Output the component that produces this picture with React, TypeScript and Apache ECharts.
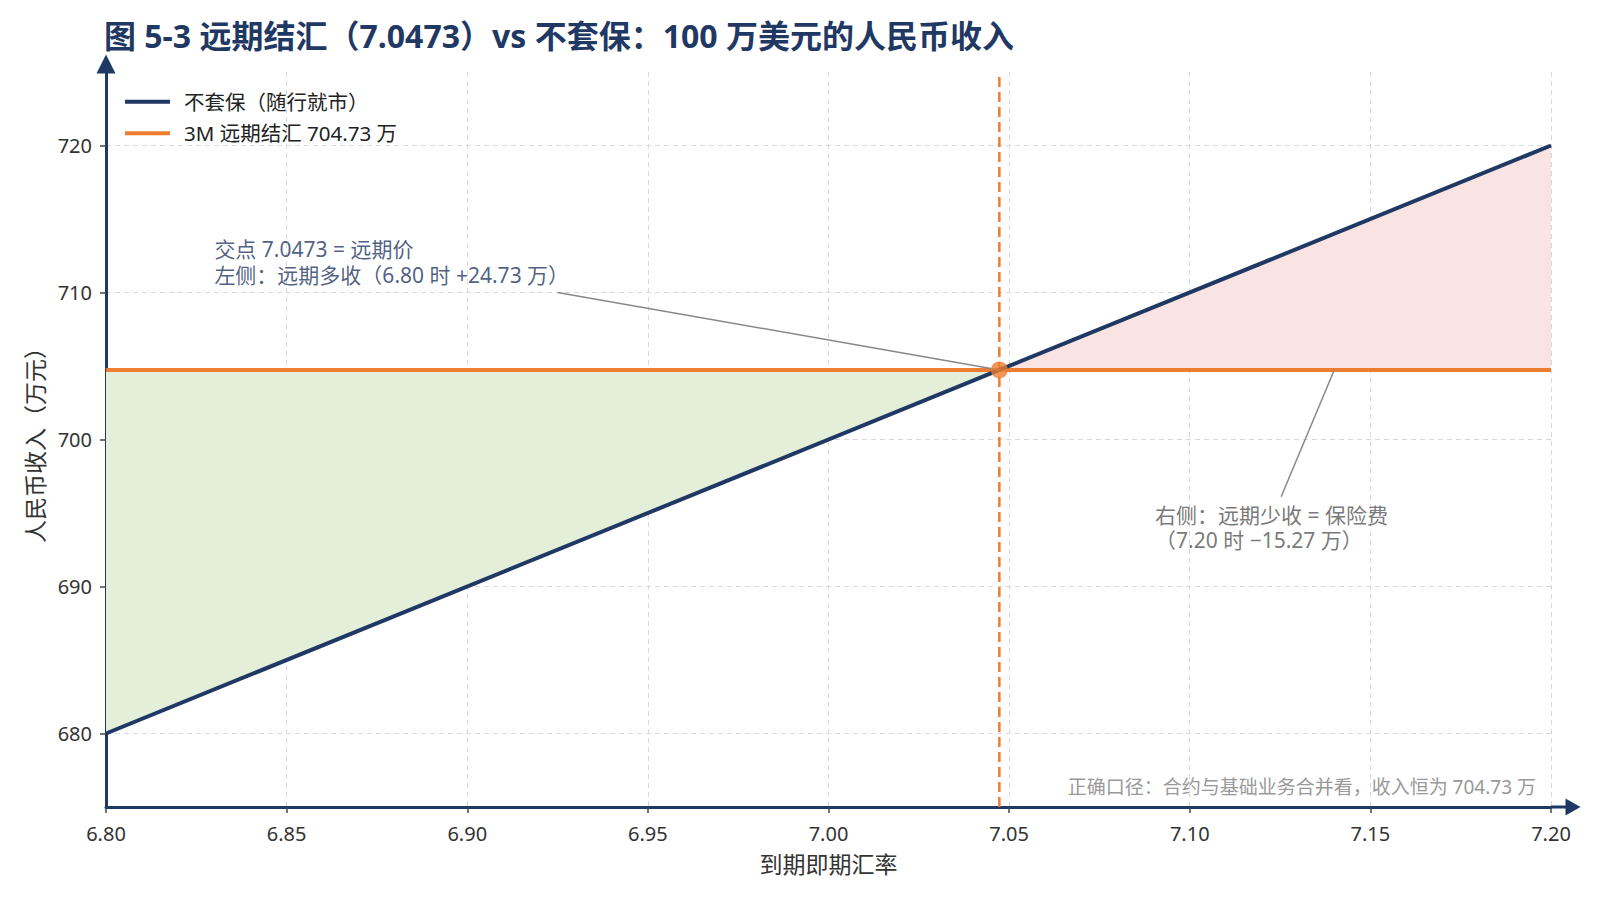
import React, { useEffect, useRef } from "react";
import * as echarts from "echarts";

// ---- data ----
const spotRates = [6.8, 7.0473, 7.2];
const unhedgedIncome = [680, 704.73, 720];
const forwardRate = 7.0473;
const forwardIncome = 704.73;
const xRange = [6.8, 7.2];
const yRange = [675, 725];
const yTickValues = [680, 690, 700, 710, 720];
const seriesNames = ["不套保（随行就市）", "3M 远期结汇 704.73 万"];
const leftNoteAnchor = [6.83, 712.06];
const leftLeader = [
  [6.925, 710],
  [7.0473, 704.73],
];
const rightNoteAnchor = [7.0904, 694.0];
const rightLeader = [
  [7.14, 704.73],
  [7.1253, 696.1],
];
const leftNote = "交点 7.0473 = 远期价\n左侧：远期多收（6.80 时 +24.73 万）";
const rightNote = "右侧：远期少收 = 保险费\n（7.20 时 −15.27 万）";
const bottomNote = "正确口径：合约与基础业务合并看，收入恒为 704.73 万";
const titleText = "图 5-3 远期结汇（7.0473）vs 不套保：100 万美元的人民币收入";

const NAVY = "#1f3864";
const ORANGE = "#ed7d31";
const FONT = "'Noto Sans', 'Noto Sans CJK SC', sans-serif";

export default function App() {
  const ref = useRef<HTMLDivElement>(null);
  useEffect(() => {
    document.body.style.margin = "0";
    const chart = echarts.init(ref.current!, null, { renderer: "svg" });
    const gridLeft = 106;
    const gridRight = 49;
    const gridTop = 72;
    const gridBottom = 93;
    const greenPoly = [
      [spotRates[0], unhedgedIncome[0]],
      [spotRates[1], unhedgedIncome[1]],
      [spotRates[0], forwardIncome],
    ];
    const pinkPoly = [
      [spotRates[1], forwardIncome],
      [spotRates[2], unhedgedIncome[2]],
      [spotRates[2], forwardIncome],
    ];
    const polySeries = (poly: number[][], color: string) => ({
      type: "custom",
      silent: true,
      z: 1,
      data: [poly[0]],
      renderItem: (_p: any, api: any) => ({
        type: "polygon",
        shape: { points: poly.map((pt) => api.coord(pt)) },
        style: { fill: color },
      }),
    });
    const option: any = {
      animation: false,
      textStyle: { fontFamily: FONT },
      title: {
        text: titleText,
        left: gridLeft - 2,
        top: 19,
        padding: 0,
        textStyle: { fontSize: 32, fontWeight: "bold", color: NAVY, fontFamily: FONT },
      },
      legend: {
        data: seriesNames,
        orient: "vertical",
        left: 125,
        top: 91.5,
        padding: 0,
        itemGap: 11,
        itemWidth: 45,
        itemHeight: 4,
        icon: "rect",
        itemStyle: { borderWidth: 0 },
        textStyle: { fontSize: 20.5, color: "#222", padding: [0, 0, 0, 9], fontFamily: FONT },
        selectedMode: false,
      },
      grid: { left: gridLeft, right: gridRight, top: gridTop, bottom: gridBottom },
      xAxis: {
        type: "value",
        min: xRange[0],
        max: xRange[1],
        interval: 0.05,
        name: "到期即期汇率",
        nameLocation: "middle",
        nameGap: 45,
        nameTextStyle: { fontSize: 23, color: "#333" },
        axisLine: {
          onZero: false,
          lineStyle: { color: NAVY, width: 3 },
          symbol: ["none", "triangle"],
          symbolSize: [17, 15],
          symbolOffset: [0, 22],
        },
        axisTick: { show: true, length: 6, lineStyle: { color: "#444", width: 1.5 } },
        axisLabel: {
          fontSize: 20,
          color: "#333",
          margin: 16,
          formatter: (v: number) => v.toFixed(2),
        },
        splitLine: { show: true, lineStyle: { color: "#d9d9d9", type: [5, 4], width: 1 } },
      },
      yAxis: {
        type: "value",
        min: yRange[0],
        max: yRange[1],
        name: "人民币收入（万元）",
        nameLocation: "middle",
        nameGap: 60,
        nameTextStyle: { fontSize: 23, color: "#333" },
        axisLine: {
          onZero: false,
          lineStyle: { color: NAVY, width: 3 },
          symbol: ["none", "triangle"],
          symbolSize: [19, 19],
          symbolOffset: [0, 8],
        },
        axisTick: {
          show: true,
          length: 6,
          customValues: yTickValues,
          lineStyle: { color: "#444", width: 1.5 },
        },
        axisLabel: { fontSize: 20, color: "#333", margin: 14, customValues: yTickValues },
        splitLine: { show: true, lineStyle: { color: "#d9d9d9", type: [5, 4], width: 1 } },
      },
      series: [
        polySeries(greenPoly, "#e3efd9"),
        polySeries(pinkPoly, "#fae3e3"),
        {
          type: "line",
          z: 2,
          symbol: "none",
          silent: true,
          lineStyle: { color: ORANGE, width: 2.5, type: [10, 5] },
          data: [
            [forwardRate, yRange[0]],
            [forwardRate, yRange[1]],
          ],
        },
        {
          name: seriesNames[1],
          type: "line",
          z: 3,
          symbol: "none",
          color: ORANGE,
          lineStyle: { color: ORANGE, width: 4 },
          data: [
            [xRange[0], forwardIncome],
            [xRange[1], forwardIncome],
          ],
        },
        {
          name: seriesNames[0],
          type: "line",
          z: 4,
          symbol: "none",
          color: NAVY,
          lineStyle: { color: NAVY, width: 4 },
          data: spotRates.map((x, i) => [x, unhedgedIncome[i]]),
        },
        {
          type: "line",
          z: 5,
          symbol: "none",
          silent: true,
          lineStyle: { color: "#888", width: 1.5 },
          data: leftLeader,
        },
        {
          type: "line",
          z: 5,
          symbol: "none",
          silent: true,
          lineStyle: { color: "#888", width: 1.5 },
          data: rightLeader,
        },
        {
          type: "scatter",
          z: 6,
          symbolSize: 17,
          itemStyle: { color: ORANGE },
          silent: true,
          data: [[forwardRate, forwardIncome]],
        },
        {
          type: "scatter",
          z: 7,
          symbolSize: 0,
          silent: true,
          itemStyle: { color: "transparent" },
          label: {
            show: true,
            position: [0, 0],
            align: "left",
            verticalAlign: "middle",
            fontSize: 21,
            lineHeight: 26.5,
            color: NAVY,
            fontFamily: FONT,
            formatter: () => leftNote,
          },
          data: [leftNoteAnchor],
        },
        {
          type: "scatter",
          z: 7,
          symbolSize: 0,
          silent: true,
          itemStyle: { color: "transparent" },
          label: {
            show: true,
            position: [0, 0],
            align: "left",
            verticalAlign: "middle",
            fontSize: 21,
            lineHeight: 25,
            color: "#555",
            fontFamily: FONT,
            formatter: () => rightNote,
          },
          data: [rightNoteAnchor],
        },
      ],
      graphic: [
        {
          type: "line",
          silent: true,
          shape: { x1: 1600 - gridRight, y1: 900 - gridBottom, x2: 1600 - gridRight + 16, y2: 900 - gridBottom },
          style: { stroke: NAVY, lineWidth: 3 },
          z: 10,
        },
        {
          type: "text",
          silent: true,
          x: 1536,
          y: 787,
          style: {
            text: bottomNote,
            align: "right",
            verticalAlign: "middle",
            fontSize: 19,
            fill: "#999",
            fontFamily: FONT,
          },
        },
      ],
    };
    chart.setOption(option);
    return () => chart.dispose();
  }, []);
  return <div ref={ref} style={{ width: 1600, height: 900 }} />;
}
